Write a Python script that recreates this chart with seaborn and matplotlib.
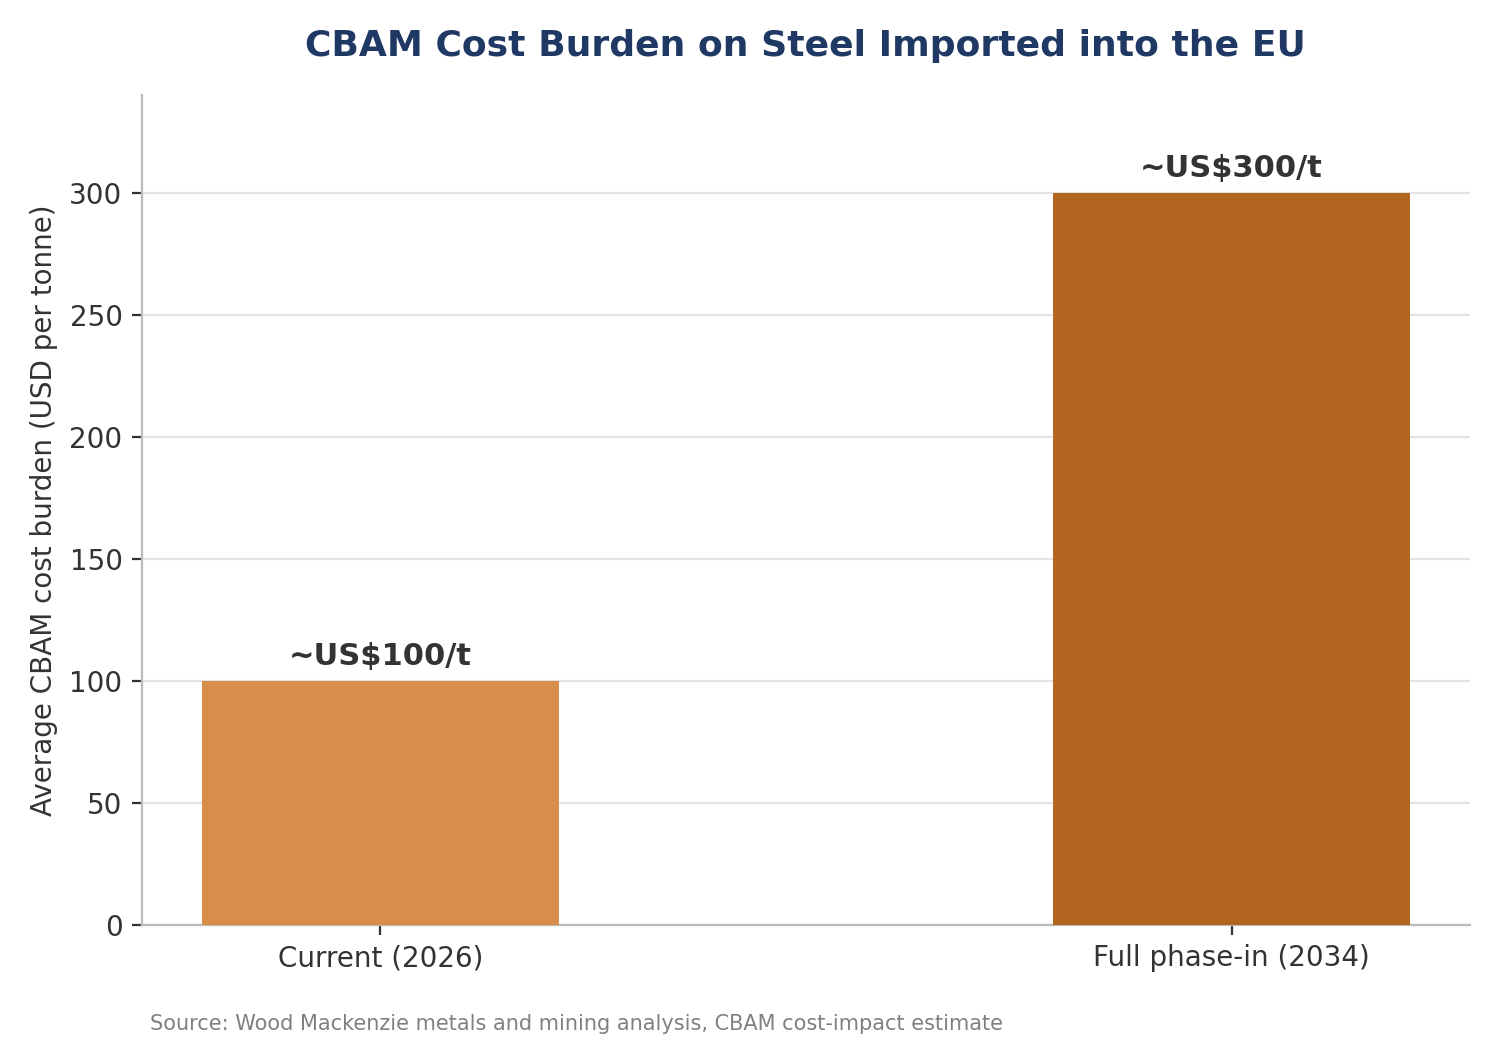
import matplotlib
matplotlib.use("Agg")
import matplotlib.pyplot as plt
import seaborn as sns
import pandas as pd

# Data
categories = ["Current (2026)", "Full phase-in (2034)"]
cost_values = [100, 300]
value_labels = ["~US$100/t", "~US$300/t"]
bar_colors = ["#D88E4B", "#B3661F"]

df = pd.DataFrame({"stage": categories, "cost": cost_values})

sns.set_style("white")
plt.rcParams['font.family'] = ['DejaVu Sans']

fig = plt.figure(figsize=(7.5, 5.2), dpi=200)
ax = fig.add_axes([0.0947, 0.1106, 0.8853, 0.7981])

sns.barplot(data=df, x="stage", y="cost", hue="stage", palette=bar_colors,
            width=0.42, legend=False, ax=ax, zorder=3, saturation=1, linewidth=0)

for i, (v, lab) in enumerate(zip(cost_values, value_labels)):
    ax.text(i, v + 4, lab, ha="center", va="bottom", fontsize=11,
            fontweight="bold", color="#333333")

ax.set_xlim(-0.28, 1.28)
ax.set_ylim(0, 340)
ax.set_yticks([0, 50, 100, 150, 200, 250, 300])
ax.yaxis.grid(True, color="#E3E3E3", linewidth=0.8, zorder=0)
ax.set_axisbelow(True)

ax.set_xlabel("")
ax.set_ylabel("Average CBAM cost burden (USD per tonne)", fontsize=10, color="#333333")
ax.tick_params(axis="both", labelsize=10, colors="#333333", length=3.5, width=0.8,
               bottom=True, left=True)

for s in ["top", "right"]:
    ax.spines[s].set_visible(False)
for s in ["left", "bottom"]:
    ax.spines[s].set_color("#BBBBBB")
    ax.spines[s].set_linewidth(0.8)

fig.suptitle("CBAM Cost Burden on Steel Imported into the EU", x=0.537, y=0.972,
             fontsize=13, fontweight="bold", color="#1F3864")

fig.text(0.1, 0.006, "Source: Wood Mackenzie metals and mining analysis, CBAM cost-impact estimate",
         fontsize=7.5, color="#808080", ha="left", va="bottom")

fig.savefig("out.png", dpi=200)
